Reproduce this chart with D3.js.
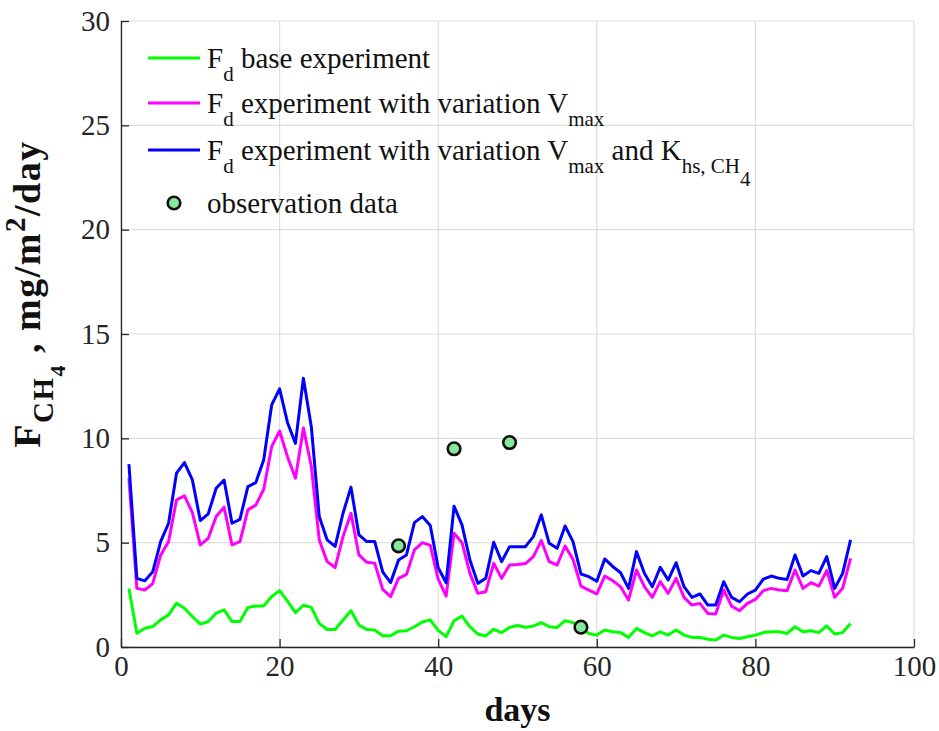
<!DOCTYPE html>
<html>
<head>
<meta charset="utf-8">
<script src="https://cdn.jsdelivr.net/npm/d3@7"></script>
<style>
  body { margin: 0; background: #fff; }
  svg { display: block; font-family: "Liberation Serif", "Times New Roman", serif; }
</style>
</head>
<body>
<svg id="chart" width="939" height="731"></svg>
<script>
// Daily flux values (days 1..92)
var days = d3.range(1, 93);

var baseFlux = [2.8, 0.66, 0.9, 0.98, 1.3, 1.54, 2.1, 1.86, 1.46, 1.1,
  1.22, 1.62, 1.78, 1.22, 1.22, 1.89, 1.97, 1.97, 2.42, 2.7,
  2.2, 1.65, 2.0, 1.9, 1.13, 0.84, 0.84, 1.29, 1.74, 1.05,
  0.84, 0.81, 0.54, 0.54, 0.76, 0.78, 0.97, 1.2, 1.3, 0.8,
  0.5, 1.26, 1.48, 0.97, 0.62, 0.53, 0.85, 0.69, 0.94, 1.03,
  0.95, 1.0, 1.17, 0.97, 0.94, 1.26, 1.17, 0.9, 0.65, 0.57,
  0.81, 0.73, 0.69, 0.46, 0.89, 0.69, 0.53, 0.73, 0.57, 0.81,
  0.57, 0.46, 0.46, 0.37, 0.33, 0.57, 0.46, 0.41, 0.49, 0.57,
  0.69, 0.73, 0.73, 0.65, 0.97, 0.73, 0.78, 0.69, 1.01, 0.62,
  0.69, 1.13];

var vmaxFlux = [8.09, 2.81, 2.73, 3.04, 4.4, 5.05, 7.05, 7.24, 6.44, 4.89,
  5.21, 6.25, 6.7, 4.89, 5.05, 6.57, 6.8, 7.56, 9.6, 10.35,
  9.12, 8.09, 10.5, 8.65, 5.13, 4.09, 3.81, 5.29, 6.41, 4.41,
  4.06, 4.01, 2.76, 2.41, 3.29, 3.48, 4.65, 5.0, 4.87, 3.25,
  2.44, 5.45, 5.0, 3.53, 2.57, 2.65, 4.01, 3.29, 3.93, 3.95,
  4.0, 4.33, 5.1, 4.09, 3.93, 4.84, 4.2, 2.92, 2.73, 2.55,
  3.4, 3.18, 2.89, 2.25, 3.69, 2.89, 2.38, 3.13, 2.57, 3.29,
  2.38, 2.01, 2.09, 1.61, 1.58, 2.73, 1.96, 1.74, 2.09, 2.28,
  2.7, 2.81, 2.73, 2.7, 3.69, 2.81, 3.08, 2.92, 3.66, 2.38,
  2.81, 4.25];

var vmaxKhsFlux = [8.76, 3.29, 3.17, 3.6, 5.05, 5.93, 8.33, 8.84, 8.01, 6.06,
  6.38, 7.61, 8.0, 5.93, 6.12, 7.69, 7.88, 8.97, 11.6, 12.37,
  10.75, 9.76, 12.88, 10.56, 6.25, 5.13, 4.82, 6.41, 7.66, 5.37,
  5.05, 5.05, 3.6, 3.09, 4.17, 4.41, 5.96, 6.25, 5.82, 3.8,
  3.08, 6.75, 5.85, 4.17, 3.05, 3.29, 5.02, 4.09, 4.81, 4.8,
  4.81, 5.29, 6.33, 4.97, 4.73, 5.8, 5.05, 3.5, 3.37, 3.15,
  4.22, 3.86, 3.56, 2.81, 4.57, 3.53, 2.89, 3.82, 3.21, 4.04,
  2.89, 2.38, 2.54, 2.01, 2.01, 3.13, 2.38, 2.17, 2.54, 2.73,
  3.25, 3.4, 3.29, 3.24, 4.41, 3.4, 3.66, 3.53, 4.33, 2.81,
  3.53, 5.13];

// Observations
var obsDays = [35, 42, 49, 58];
var obsFlux = [4.85, 9.5, 9.8, 0.95];

var xTicks = [0, 20, 40, 60, 80, 100];
var yTicks = [0, 5, 10, 15, 20, 25, 30];

var svg = d3.select("#chart");

// Plot box
var plotLeft = 121, plotRight = 914, plotTop = 21, plotBottom = 647;

var x = d3.scaleLinear().domain([0, 100]).range([plotLeft, plotRight]);
var y = d3.scaleLinear().domain([0, 30]).range([plotBottom, plotTop]);

// Grid lines
svg.append("g")
  .selectAll("line")
  .data(xTicks)
  .enter()
  .append("line")
  .attr("x1", function(d) { return x(d); })
  .attr("x2", function(d) { return x(d); })
  .attr("y1", plotTop)
  .attr("y2", plotBottom)
  .style("stroke", "#dedede")
  .style("stroke-width", 1.2);

svg.append("g")
  .selectAll("line")
  .data(yTicks)
  .enter()
  .append("line")
  .attr("x1", plotLeft)
  .attr("x2", plotRight)
  .attr("y1", function(d) { return y(d); })
  .attr("y2", function(d) { return y(d); })
  .style("stroke", "#dedede")
  .style("stroke-width", 1.2);

// Axes (ticks point inward)
var xAxis = svg.append("g")
  .attr("transform", "translate(0," + plotBottom + ")")
  .call(d3.axisBottom(x).tickValues(xTicks).tickSizeInner(-8).tickSizeOuter(0).tickPadding(8));

var yAxis = svg.append("g")
  .attr("transform", "translate(" + plotLeft + ",0)")
  .call(d3.axisLeft(y).tickValues(yTicks).tickSizeInner(-8).tickSizeOuter(0).tickPadding(11));

[xAxis, yAxis].forEach(function(ax) {
  ax.selectAll("path, line").style("stroke", "#262626").style("stroke-width", 1.3);
  ax.selectAll("text")
    .style("font-family", "'Liberation Serif', serif")
    .style("font-size", "29px")
    .style("fill", "#262626");
});

// Lines
var line = d3.line()
  .x(function(d, i) { return x(days[i]); })
  .y(function(d) { return y(d); });

var series = [[baseFlux, "#00ff00"], [vmaxFlux, "#ff00ff"], [vmaxKhsFlux, "#0000ff"]];

series.forEach(function(s) {
  svg.append("path")
    .datum(s[0])
    .attr("d", line)
    .style("fill", "none")
    .style("stroke", s[1])
    .style("stroke-width", 3)
    .style("stroke-linejoin", "round");
});

// Observation points
svg.append("g")
  .selectAll("circle")
  .data(obsDays)
  .enter()
  .append("circle")
  .attr("cx", function(d) { return x(d); })
  .attr("cy", function(d, i) { return y(obsFlux[i]); })
  .attr("r", 6.3)
  .style("fill", "#86e89c")
  .style("stroke", "#111")
  .style("stroke-width", 2.6);

// Legend
var legend = svg.append("g").attr("class", "legend");
var legendRows = [
  {color: "#00ff00", mid: 58, parts: [["F", 0], ["d", 1], [" base experiment", 0]]},
  {color: "#ff00ff", mid: 103, parts: [["F", 0], ["d", 1], [" experiment with variation V", 0], ["max", 1]]},
  {color: "#0000ff", mid: 150, parts: [["F", 0], ["d", 1], [" experiment with variation V", 0], ["max", 1], [" and K", 0], ["hs, CH", 1], ["4", 2]]}
];

legendRows.forEach(function(row) {
  legend.append("line")
    .attr("x1", 148).attr("x2", 200)
    .attr("y1", row.mid).attr("y2", row.mid)
    .style("stroke", row.color)
    .style("stroke-width", 3);

  var t = legend.append("text")
    .attr("x", 207)
    .attr("y", row.mid + 9.5)
    .style("font-size", "29px")
    .style("fill", "#111");
  var level = 0;
  row.parts.forEach(function(p) {
    var shift = (p[1] - level) * 13;
    level = p[1];
    t.append("tspan")
      .attr("dy", shift)
      .style("font-size", p[1] > 0 ? "21px" : "29px")
      .text(p[0]);
  });
});

legend.append("circle")
  .attr("cx", 174).attr("cy", 203)
  .attr("r", 6.3)
  .style("fill", "#86e89c")
  .style("stroke", "#111")
  .style("stroke-width", 2.6);

legend.append("text")
  .attr("x", 207).attr("y", 212.5)
  .style("font-size", "29px")
  .style("fill", "#111")
  .text("observation data");

// X label
svg.append("text")
  .attr("x", (plotLeft + plotRight) / 2)
  .attr("y", 721)
  .attr("text-anchor", "middle")
  .style("font-size", "34px")
  .style("font-weight", "bold")
  .style("fill", "#111")
  .text("days");

// Y label: F_CH4, mg/m^2/day
var yLabel = svg.append("text")
  .attr("transform", "translate(40,294) rotate(-90)")
  .attr("text-anchor", "middle")
  .style("font-size", "38px")
  .style("font-weight", "bold")
  .style("letter-spacing", "1.5px")
  .style("fill", "#111");
yLabel.append("tspan").text("F");
yLabel.append("tspan").attr("dy", 13).style("font-size", "29px").text("CH");
yLabel.append("tspan").attr("dy", 12).style("font-size", "22px").text("4");
yLabel.append("tspan").attr("dy", -25).text(" , mg/m");
yLabel.append("tspan").attr("dy", -15).style("font-size", "29px").text("2");
yLabel.append("tspan").attr("dy", 15).text("/day");
</script>
</body>
</html>
